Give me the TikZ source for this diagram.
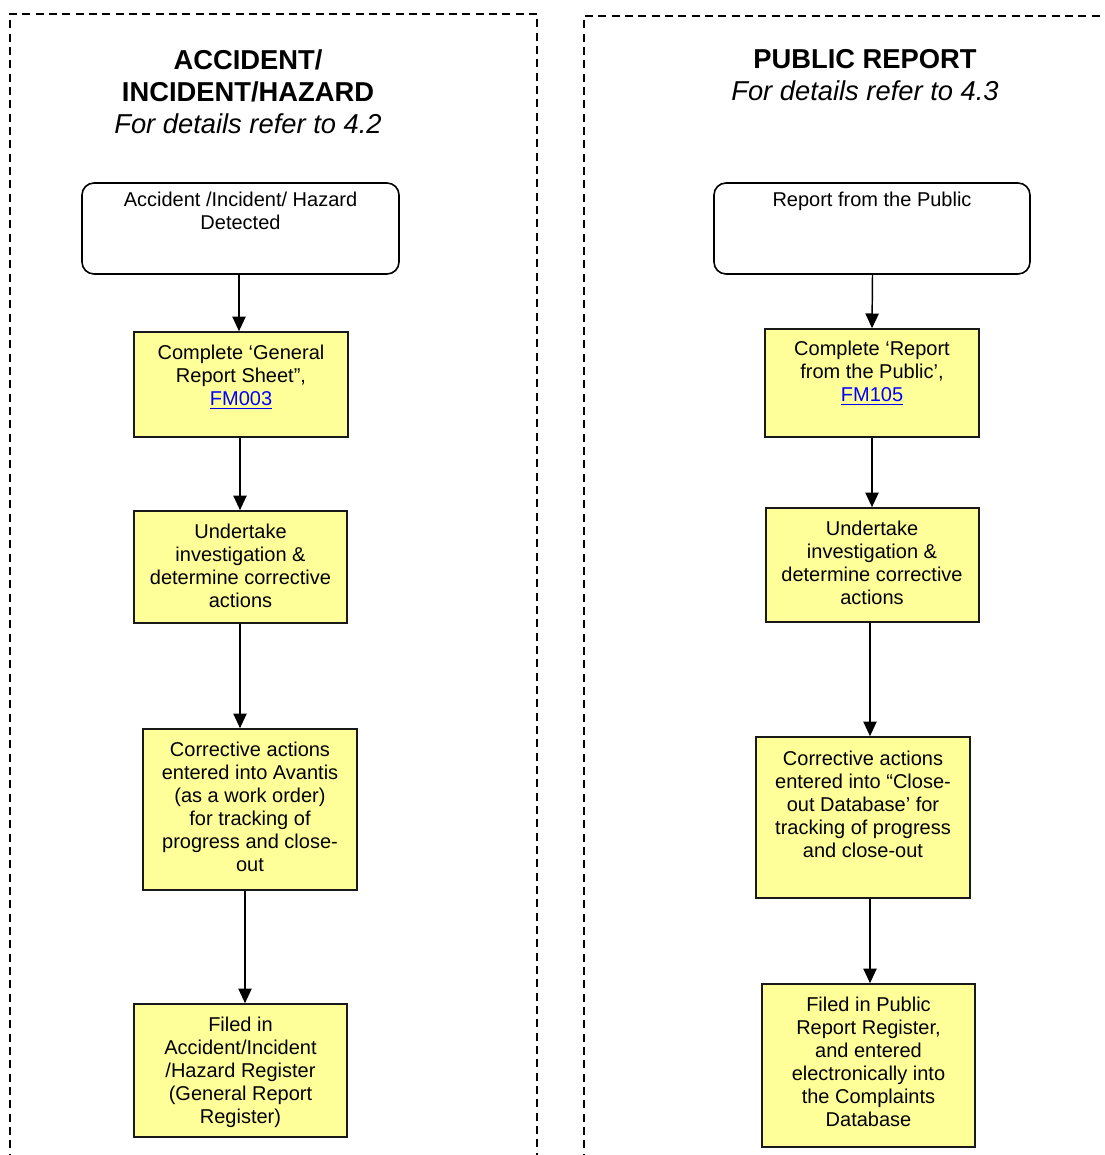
\documentclass[tikz,border=0pt]{standalone}
\usepackage{fontspec}
\setmainfont{Liberation Sans}
\usetikzlibrary{arrows.meta}
\definecolor{yel}{RGB}{255,255,153}
\definecolor{lnk}{RGB}{0,0,255}
\newcommand{\lk}[1]{\textcolor{lnk}{\underline{#1}}}
\begin{document}
\begin{tikzpicture}[x=0.75pt,y=-0.75pt,
  frame/.style={draw=black,line width=1pt,dash pattern=on 6pt off 4pt},
  startbox/.style={draw=black,line width=1.2pt,fill=white,rounded corners=9pt,inner sep=0pt},
  stepbox/.style={draw=black!90,line width=1.25pt,fill=yel,inner sep=0pt},
  txt/.style={align=center,inner sep=0pt,font=\fontsize{15pt}{17.25pt}\selectfont},
  ttl/.style={align=center,inner sep=0pt,font=\fontsize{20.5pt}{24pt}\selectfont},
  arr/.style={draw=black,line width=1.1pt,-{Triangle[width=10pt,length=11pt]}}]
\clip (0,0) rectangle (1105,1155);
\fill[white] (0,0) rectangle (1105,1155);
% frames
\draw[frame] (10,1175) -- (10,14) -- (537,14) -- (537,1175);
\draw[frame] (584,1175) -- (584,16) -- (1125,16);
% titles
\node[ttl] (tl) at (248,91.5) {\textbf{ACCIDENT/}\\\textbf{INCIDENT/HAZARD}\\\textit{For details refer to 4.2}};
\node[ttl] (tr) at (865,75) {\textbf{PUBLIC REPORT}\\\textit{For details refer to 4.3}};
% left boxes
\node[startbox,minimum width=237.75pt,minimum height=68.25pt] (L1) at (240.5,228.5) {};
\node[stepbox,minimum width=160.5pt,minimum height=78.75pt] (L2) at (241,384.5) {};
\node[stepbox,minimum width=159.75pt,minimum height=84pt] (L3) at (240.5,567) {};
\node[stepbox,minimum width=160.5pt,minimum height=120.75pt] (L4) at (250,809.5) {};
\node[stepbox,minimum width=159.75pt,minimum height=99.75pt] (L5) at (240.5,1070.5) {};
\node[txt] (l1t) at (240.5,211) {Accident /Incident/ Hazard\\Detected};
\node[txt] (l2t) at (241,377) {Complete ‘General\\Report Sheet”,\\\lk{FM003}};
\node[txt] (l3t) at (240.5,565.5) {Undertake\\investigation \&\\determine corrective\\actions};
\node[txt] (l4t) at (250,807) {Corrective actions\\entered into Avantis\\(as a work order)\\for tracking of\\progress and close-\\out};
\node[txt] (l5t) at (240.5,1072) {Filed in\\Accident/Incident\\/Hazard Register\\(General Report\\Register)};
% right boxes
\node[startbox,minimum width=237pt,minimum height=68.25pt] (R1) at (872,228.5) {};
\node[stepbox,minimum width=160.5pt,minimum height=81pt] (R2) at (872,383) {};
\node[stepbox,minimum width=159.75pt,minimum height=85.5pt] (R3) at (872.5,565) {};
\node[stepbox,minimum width=160.5pt,minimum height=120.75pt] (R4) at (863,817.5) {};
\node[stepbox,minimum width=159.75pt,minimum height=122.25pt] (R5) at (868.5,1065.5) {};
\node[txt] (r1t) at (872,201) {Report from the Public};
\node[txt] (r2t) at (872,373) {Complete ‘Report\\from the Public’,\\\lk{FM105}};
\node[txt] (r3t) at (872,563) {Undertake\\investigation \&\\determine corrective\\actions};
\node[txt] (r4t) at (863,804) {Corrective actions\\entered into “Close-\\out Database’ for\\tracking of progress\\and close-out};
\node[txt] (r5t) at (868.5,1062) {Filed in Public\\Report Register,\\and entered\\electronically into\\the Complaints\\Database};
% connectors left
\draw[arr] (L1.south -| 239,0) -- (L2.north -| 239,0);
\draw[arr] (L2.south -| 240,0) -- (L3.north -| 240,0);
\draw[arr] (L3.south -| 240,0) -- (L4.north -| 240,0);
\draw[arr] (L4.south -| 245,0) -- (L5.north -| 245,0);
% connectors right
\draw[arr] (R1.south -| 872.5,0) -- (R2.north -| 872,0);
\draw[arr] (R2.south -| 872,0) -- (R3.north -| 872,0);
\draw[arr] (R3.south -| 870,0) -- (R4.north -| 870,0);
\draw[arr] (R4.south -| 870,0) -- (R5.north -| 870,0);
\end{tikzpicture}
\end{document}
